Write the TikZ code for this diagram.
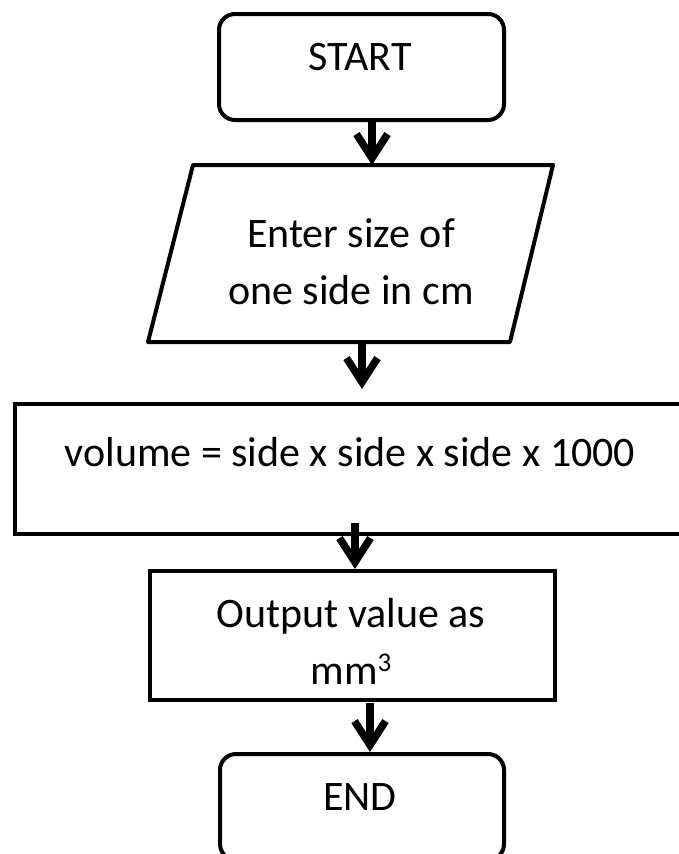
\documentclass[tikz,border=0pt]{standalone}
\usepackage{fontspec}
\setmainfont{Carlito}
\usetikzlibrary{arrows.meta}
\begin{document}
\begin{tikzpicture}[x=1pt,y=-1pt,
  box/.style={draw=black, line width=4pt, inner sep=0pt, anchor=north west},
  term/.style={box, rounded corners=16pt},
  lbl/.style={font=\fontsize{42}{57}\selectfont, align=center, inner sep=0pt},
  arr/.style={line width=7.5pt, -{Straight Barb[length=24pt,width=31pt]}}]
\useasboundingbox (0,0) rectangle (678,854);
% shapes
\node[term, minimum width=285pt, minimum height=106pt] (start) at (217,12) {};
\coordinate (pTL) at (193,165);
\coordinate (pTR) at (553,165);
\coordinate (pBR) at (510,342);
\coordinate (pBL) at (148,342);
\draw[line width=4pt, line join=round] (pTL) -- (pTR) -- (pBR) -- (pBL) -- cycle;
\node[box, minimum width=690pt, minimum height=130pt] (proc) at (13,402) {};
\node[box, minimum width=405pt, minimum height=129pt] (out) at (148,569) {};
\node[term, minimum width=284pt, minimum height=106pt] (end) at (218,752) {};
% texts
\node[lbl] (tstart) at (360,57) {START};
\node[lbl] (tin) at (351,262) {Enter size of\\one side in cm};
\node[lbl] (tproc) at (350,452) {volume = side x side x side x 1000};
\node[lbl] (tout) at (351,641) {Output value as\\mm\raisebox{13pt}{\fontsize{27}{27}\selectfont 3}};
\node[lbl] (tend) at (360,797) {END};
% connectors
\coordinate (a2s) at (362,342);
\coordinate (a2e) at (362,389);
\coordinate (a3s) at (355,523);
\coordinate (a4s) at (370,703);
\draw[arr] ([xshift=10.5pt]start.south) -- ([xshift=10.5pt]start.south |- pTL);
\draw[arr] (a2s) -- (a2e);
\draw[arr] (a3s) -- (a3s |- out.north);
\draw[arr] (a4s) -- (a4s |- end.north);
\end{tikzpicture}
\end{document}
